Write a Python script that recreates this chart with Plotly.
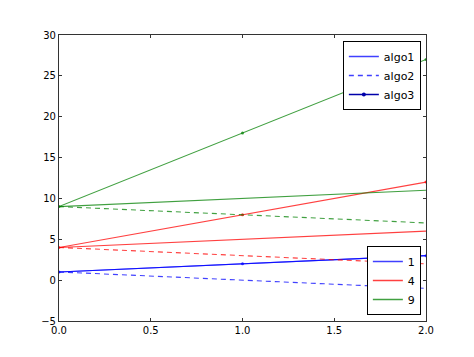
import plotly.graph_objects as go

x_vals = [0, 1, 2]
params = [1, 4, 9]
param_labels = ["1", "4", "9"]
colors = ["rgba(0,0,255,0.75)", "rgba(255,0,0,0.75)", "rgba(0,128,0,0.75)"]
algo1 = {1: [1, 2, 3], 4: [4, 5, 6], 9: [9, 10, 11]}
algo2 = {1: [1, 0, -1], 4: [4, 3, 2], 9: [9, 8, 7]}
algo3 = {1: [1, 2, 3], 4: [4, 8, 12], 9: [9, 18, 27]}
algo_names = ["algo1", "algo2", "algo3"]
x_ticks = [0, 0.5, 1.0, 1.5, 2.0]
x_tick_labels = ["0.0", "0.5", "1.0", "1.5", "2.0"]
y_ticks = [-5, 0, 5, 10, 15, 20, 25, 30]

DASH = "5px,4px"
fig = go.Figure()
# legend-only entries first (placed outside the visible axis range)
off_x, off_y = [-10], [-100]
fig.add_trace(go.Scatter(x=off_x, y=off_y, mode="lines", name=algo_names[0], legendgroup="a1",
                         line=dict(color=colors[0], width=1.3), legend="legend"))
fig.add_trace(go.Scatter(x=off_x, y=off_y, mode="lines", name=algo_names[1], legendgroup="a2",
                         line=dict(color=colors[0], width=1.3, dash=DASH), legend="legend"))
fig.add_trace(go.Scatter(x=off_x, y=off_y, mode="lines+markers", name=algo_names[2], legendgroup="a3",
                         line=dict(color="#0000aa", width=1.5), marker=dict(color="#0000aa", size=4),
                         legend="legend"))
for lab, c in zip(param_labels, colors):
    fig.add_trace(go.Scatter(x=off_x, y=off_y, mode="lines", name=lab, legendgroup="p" + lab,
                             line=dict(color=c, width=1.3), legend="legend2"))

for p, c in zip(params, colors):
    fig.add_trace(go.Scatter(x=x_vals, y=algo1[p], mode="lines",
                             line=dict(color=c, width=1.1), showlegend=False))
    fig.add_trace(go.Scatter(x=x_vals, y=algo2[p], mode="lines",
                             line=dict(color=c, width=1.1, dash=DASH), showlegend=False))
    fig.add_trace(go.Scatter(x=x_vals, y=algo3[p], mode="lines+markers",
                             line=dict(color=c, width=1.1), marker=dict(color=c, size=3),
                             showlegend=False))

axis_common = dict(showline=True, linecolor="#333333", linewidth=1.2, mirror="allticks",
                   ticks="inside", ticklen=3, tickcolor="#333333", showgrid=False, zeroline=False,
                   tickfont=dict(family="DejaVu Sans", size=10, color="black"))
fig.update_xaxes(range=[0, 2], tickvals=x_ticks, ticktext=x_tick_labels, **axis_common)
fig.update_yaxes(range=[-5, 30], tickvals=y_ticks, **axis_common)

legend_common = dict(bordercolor="black", borderwidth=1, bgcolor="white",
                     font=dict(family="DejaVu Sans", size=11, color="black"),
                     xanchor="right", itemwidth=30, tracegroupgap=0)
fig.update_layout(
    width=474, height=357,
    margin=dict(l=51, r=56, t=27, b=44),
    paper_bgcolor="white", plot_bgcolor="white",
    legend=dict(x=0.986, y=0.979, yanchor="top", **legend_common),
    legend2=dict(x=0.986, y=0.021, yanchor="bottom", **legend_common),
)
fig.write_html("out.html")
